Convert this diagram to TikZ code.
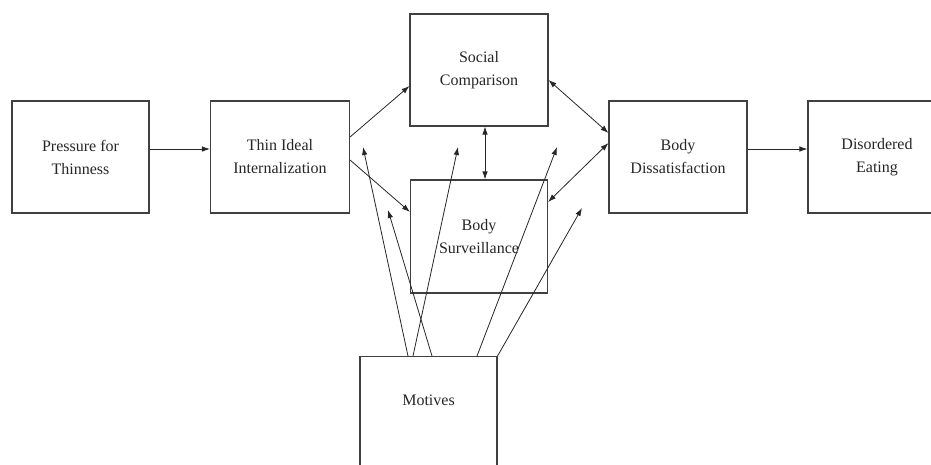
\documentclass[tikz,border=0pt]{standalone}
\usepackage{fontspec}
\setmainfont{Liberation Serif}
\usetikzlibrary{arrows.meta}

\begin{document}
\begin{tikzpicture}[x=1pt,y=-1pt,
    font=\fontsize{16}{23}\selectfont,
    text=black!85,
    >={Latex[length=8pt,width=5.5pt]},
    box/.style={draw=black!75,line width=1.1pt,minimum width=138pt,minimum height=112pt,align=center,inner sep=0pt},
    link/.style={draw=black!85,line width=0.8pt}]
    \useasboundingbox (0,0) rectangle (931,464);
    \clip (0,0) rectangle (931,464);
    % boxes
    \node[box,minimum width=137pt] (press) at (80.5,157) {Pressure for\\Thinness};
    \node[box,minimum width=139pt] (thin) at (280,157) {Thin Ideal\\Internalization};
    \node[box] (social) at (479,70) {Social\\Comparison};
    \node[box,minimum width=137pt,minimum height=113pt] (surv) at (479,236.5) {Body\\Surveillance};
    \node[box] (diss) at (678,157) {Body\\Dissatisfaction};
    \node[box] (dis) at (877,157) {Disordered\\Eating};
    \node[box,minimum width=137pt,minimum height=130pt,anchor=north] (motives) at (428.5,356) {};
    \node at ([yshift=-44pt]motives.north) {Motives};
    % main paths
    \draw[link,->] ([yshift=8pt]press.east) -- ([yshift=8pt]thin.west);
    \draw[link,->] ([yshift=20pt]thin.east) -- ([yshift=-16pt]social.west);
    \draw[link,->] ([yshift=-3pt]thin.east) -- ([yshift=24.5pt]surv.west);
    \draw[link,<->] ([xshift=6pt]social.south) -- ([xshift=6pt]surv.north);
    \draw[link,<->] ([yshift=-10pt]social.east) -- ([yshift=24pt]diss.west);
    \draw[link,<->] ([yshift=34.5pt]surv.east) -- ([yshift=14pt]diss.west);
    \draw[link,->] ([yshift=8pt]diss.east) -- ([yshift=8pt]dis.west);
    % motives paths
    \coordinate (tipA) at (363,147);
    \coordinate (tipB) at (388,210);
    \coordinate (tipC) at (458,147);
    \coordinate (tipD) at (557,147);
    \coordinate (tipE) at (582,208);
    \draw[link,->] ([xshift=-20.5pt]motives.north) -- (tipA);
    \draw[link,->] ([xshift=3.5pt]motives.north) -- (tipB);
    \draw[link,->] ([xshift=-15.5pt]motives.north) -- (tipC);
    \draw[link,->] ([xshift=48.5pt]motives.north) -- (tipD);
    \draw[link,->] (motives.north east) -- (tipE);
\end{tikzpicture}
\end{document}
